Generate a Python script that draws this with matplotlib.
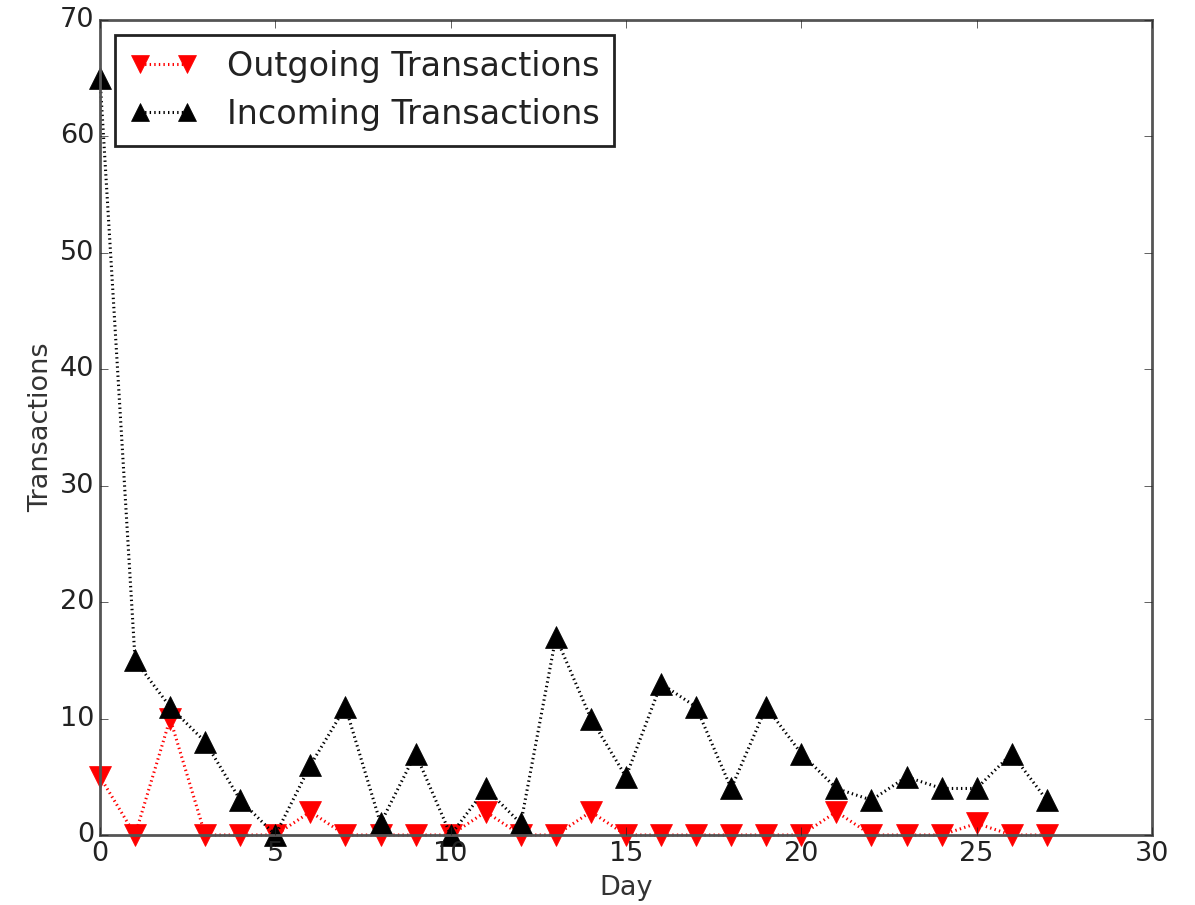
import matplotlib
matplotlib.use("Agg")
import matplotlib.pyplot as plt

days = list(range(28))
outgoing = [5, 0, 10, 0, 0, 0, 2, 0, 0, 0, 0, 2, 0, 0, 2, 0, 0, 0, 0, 0, 0, 2, 0, 0, 0, 1, 0, 0]
incoming = [65, 15, 11, 8, 3, 0, 6, 11, 1, 7, 0, 4, 1, 17, 10, 5, 13, 11, 4, 11, 7, 4, 3, 5, 4, 4, 7, 3]

plt.style.use('classic')
fig = plt.figure(figsize=(11.95, 9.05), dpi=100)
ax = fig.add_axes([0.0837, 0.0773, 0.8803, 0.9007])

ax.plot(days, outgoing, linestyle=(0, (1, 2.3)), color='red', marker='v', markersize=16,
        markerfacecolor='red', markeredgecolor='red', lw=2.2, label='Outgoing Transactions', clip_on=False)
ax.plot(days, incoming, linestyle=(0, (1, 2.3)), color='black', marker='^', markersize=16,
        markerfacecolor='black', markeredgecolor='black', lw=2.2, label='Incoming Transactions', clip_on=False)

ax.set_xlim(0, 30)
ax.set_ylim(0, 70)
ax.set_xlabel('Day', fontsize=19.5, color='#333333', labelpad=6)
ax.set_ylabel('Transactions', fontsize=19.5, color='#333333', labelpad=4)
ax.tick_params(labelsize=19.5, colors='#222222', direction='in', length=6, top=True, right=True)
for s in ax.spines.values():
    s.set_color('#555555')
    s.set_linewidth(2)
leg = ax.legend(loc='upper left', fontsize=24, numpoints=2, frameon=True, fancybox=False,
                borderpad=0.45, handlelength=2.0, handletextpad=0.9, labelspacing=0.45,
                borderaxespad=0.45, markerscale=0.8)
leg.get_frame().set_linewidth(2)
leg.get_frame().set_edgecolor('#222222')
for t in leg.get_texts():
    t.set_color('#222222')

fig.savefig('out.png', dpi=100)
